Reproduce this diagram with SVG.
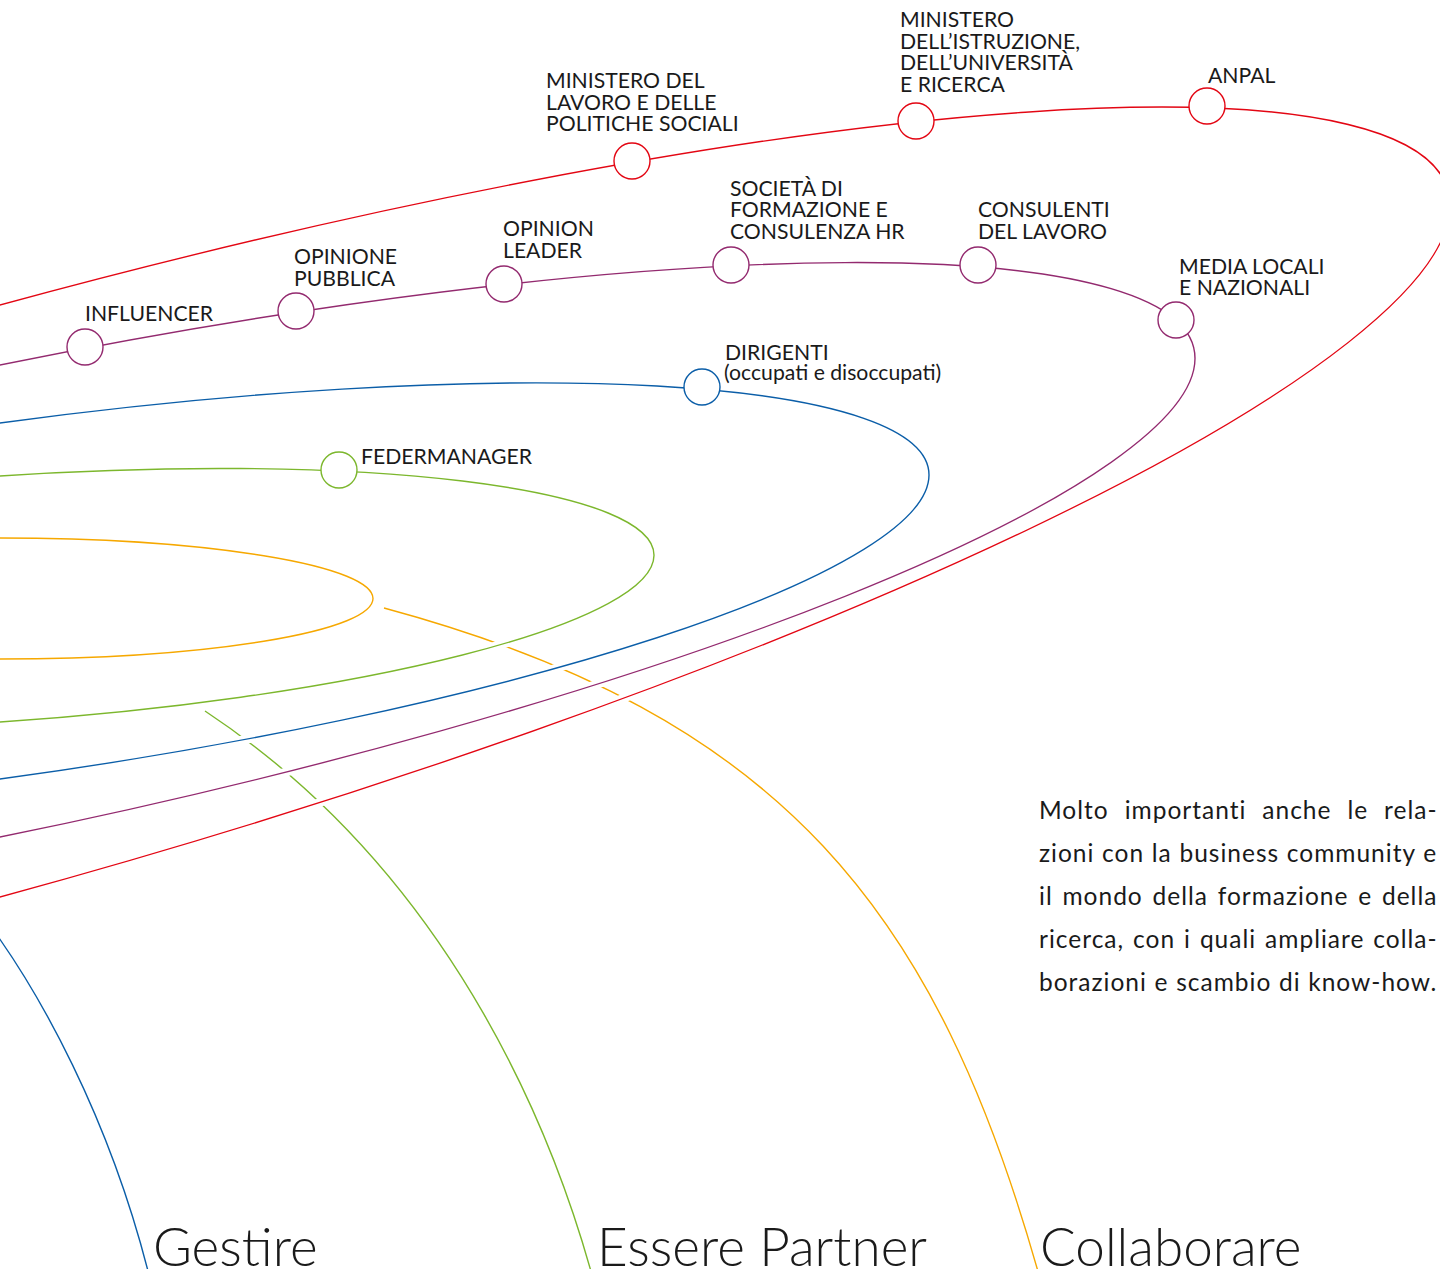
<svg xmlns="http://www.w3.org/2000/svg" width="1440" height="1269" viewBox="0 0 1440 1269">
  <style>
    .orb{fill:none;stroke-width:1.4;vector-effect:non-scaling-stroke}
    .halo{fill:none;stroke:#fff;stroke-width:9;vector-effect:non-scaling-stroke}
    .node circle{fill:#fff;stroke-width:1.4}
    .red{stroke:#e30613}
    .purple{stroke:#932a6f}
    .blue{stroke:#0b5ea8}
    .green{stroke:#7cb72d}
    .orange{stroke:#f6a800}
    .lbl{font-family:Lato,"Open Sans","Liberation Sans",sans-serif;font-size:21.2px;fill:#1a1a1a}
    .para{font-family:Lato,"Open Sans","Liberation Sans",sans-serif;font-size:24.5px;letter-spacing:1px;fill:#1a1a1a}
    .big{font-family:Lato,"Open Sans","Liberation Sans",sans-serif;font-weight:300;font-size:53px;fill:#1a1a1a}
  </style>
  <defs>
    <!-- orbits: ellipses centred on the left edge, sheared so the right side rises -->
    <ellipse id="orbit-orange" cx="0" cy="598.5" rx="373" ry="60.5"/>
    <ellipse id="orbit-green" cx="0" cy="599" rx="654" ry="123" transform="matrix(1,-0.067,0,1,0,0)"/>
    <ellipse id="orbit-blue" cx="0" cy="601" rx="929" ry="178" transform="matrix(1,-0.1356,0,1,0,0)"/>
    <ellipse id="orbit-purple" cx="0" cy="601" rx="1195" ry="236" transform="matrix(1,-0.203,0,1,0,0)"/>
    <ellipse id="orbit-red" cx="0" cy="601" rx="1450" ry="296" transform="matrix(1,-0.2726,0,1,0,0)"/>
  </defs>

  <rect width="1440" height="1269" fill="#fff"/>

  <g id="connectors">
    <!-- descending branches, passing under the orbits -->
    <path id="branch-green" class="orb green" d="M205,711 C465,883 560,1160 592,1275"/>
    <path id="branch-orange" class="orb orange" d="M384,608 C784,716 937,913 1039,1275"/>
    <path id="branch-blue" class="orb blue" d="M-20,912 C40,990 110,1120 149,1275"/>
    <!-- white casing so the branches break where they cross -->
    <use href="#orbit-green" class="halo"/>
    <use href="#orbit-blue" class="halo"/>
    <use href="#orbit-purple" class="halo"/>
    <use href="#orbit-red" class="halo"/>
    <use href="#orbit-orange" class="orb orange"/>
    <use href="#orbit-green" class="orb green"/>
    <use href="#orbit-blue" class="orb blue"/>
    <use href="#orbit-purple" class="orb purple"/>
    <use href="#orbit-red" class="orb red"/>
  </g>

  <!-- red orbit -->
  <g id="node-ministero-lavoro" class="node">
    <circle class="red" cx="632" cy="161" r="18"/>
    <text class="lbl"><tspan x="546" y="88">MINISTERO DEL</tspan><tspan x="546" y="110">LAVORO E DELLE</tspan><tspan x="546" y="131">POLITICHE SOCIALI</tspan></text>
  </g>
  <g id="node-miur" class="node">
    <circle class="red" cx="916" cy="121" r="18"/>
    <text class="lbl"><tspan x="900" y="27">MINISTERO</tspan><tspan x="900" y="49">DELL’ISTRUZIONE,</tspan><tspan x="900" y="70">DELL’UNIVERSITÀ</tspan><tspan x="900" y="92">E RICERCA</tspan></text>
  </g>
  <g id="node-anpal" class="node">
    <circle class="red" cx="1207" cy="106" r="18"/>
    <text class="lbl" x="1208" y="83">ANPAL</text>
  </g>

  <!-- purple orbit -->
  <g id="node-influencer" class="node">
    <circle class="purple" cx="85" cy="347" r="18"/>
    <text class="lbl" x="85" y="321">INFLUENCER</text>
  </g>
  <g id="node-opinione-pubblica" class="node">
    <circle class="purple" cx="296" cy="311" r="18"/>
    <text class="lbl"><tspan x="294" y="264">OPINIONE</tspan><tspan x="294" y="286">PUBBLICA</tspan></text>
  </g>
  <g id="node-opinion-leader" class="node">
    <circle class="purple" cx="504" cy="284" r="18"/>
    <text class="lbl"><tspan x="503" y="236">OPINION</tspan><tspan x="503" y="258">LEADER</tspan></text>
  </g>
  <g id="node-societa-formazione" class="node">
    <circle class="purple" cx="731" cy="265" r="18"/>
    <text class="lbl"><tspan x="730" y="196">SOCIETÀ DI</tspan><tspan x="730" y="217">FORMAZIONE E</tspan><tspan x="730" y="239">CONSULENZA HR</tspan></text>
  </g>
  <g id="node-consulenti" class="node">
    <circle class="purple" cx="978" cy="265" r="18"/>
    <text class="lbl"><tspan x="978" y="217">CONSULENTI</tspan><tspan x="978" y="239">DEL LAVORO</tspan></text>
  </g>
  <g id="node-media" class="node">
    <circle class="purple" cx="1176" cy="320" r="18"/>
    <text class="lbl"><tspan x="1179" y="274">MEDIA LOCALI</tspan><tspan x="1179" y="295">E NAZIONALI</tspan></text>
  </g>

  <!-- blue orbit -->
  <g id="node-dirigenti" class="node">
    <circle class="blue" cx="702" cy="387" r="18"/>
    <text class="lbl"><tspan x="725" y="360">DIRIGENTI</tspan><tspan x="724" y="380">(occupati e disoccupati)</tspan></text>
  </g>

  <!-- green orbit -->
  <g id="node-federmanager" class="node">
    <circle class="green" cx="339" cy="470" r="18"/>
    <text class="lbl" x="361" y="464">FEDERMANAGER</text>
  </g>

  <g id="note">
    <text class="para" x="1039" y="819" word-spacing="8.7">Molto importanti anche le rela-</text>
    <text class="para" x="1039" y="862" word-spacing="0.4">zioni con la business community e</text>
    <text class="para" x="1039" y="905" word-spacing="2.5">il mondo della formazione e della</text>
    <text class="para" x="1039" y="948" word-spacing="1.7">ricerca, con i quali ampliare colla-</text>
    <text class="para" x="1039" y="991" word-spacing="0.4">borazioni e scambio di know-how.</text>
  </g>

  <g id="titles">
    <text class="big" x="153" y="1266">Gestire</text>
    <text class="big" x="597" y="1266">Essere Partner</text>
    <text class="big" x="1040" y="1266">Collaborare</text>
  </g>
</svg>
